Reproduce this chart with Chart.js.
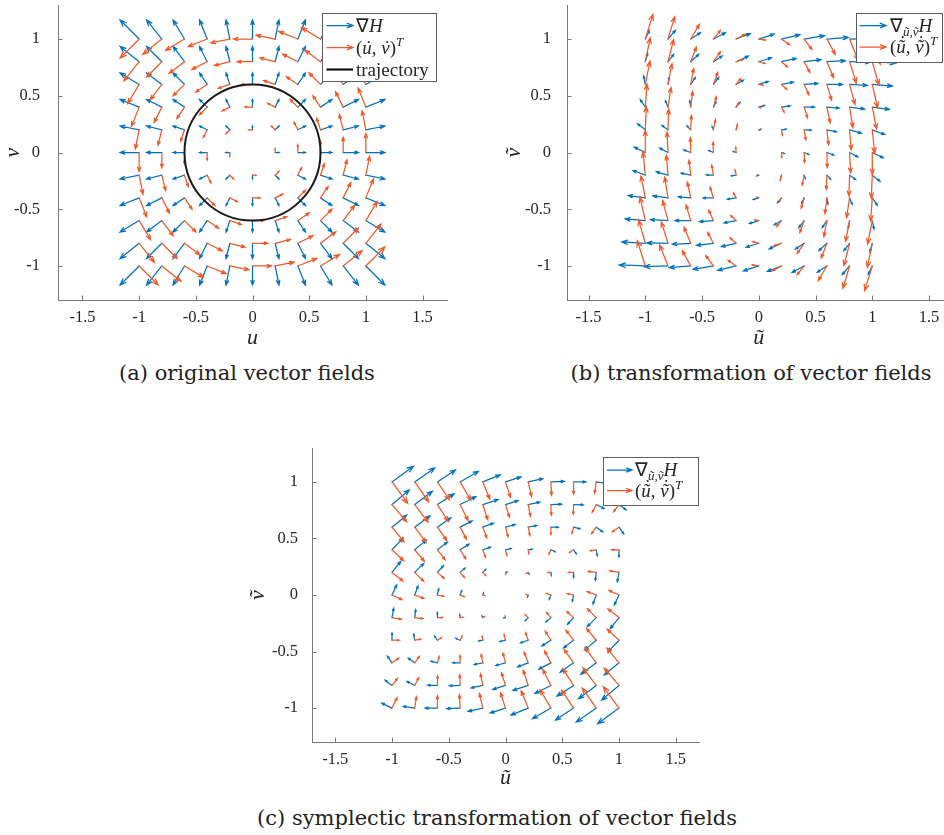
<!DOCTYPE html>
<html>
<head>
<meta charset="utf-8">
<script src="https://cdn.jsdelivr.net/npm/chart.js@4.4.1/dist/chart.umd.min.js"></script>
<style>
  body { margin: 0; background: #fff; width: 944px; height: 835px; position: relative; overflow: hidden; }
  canvas { position: absolute; }
  .cap { position: absolute; font-family: "DejaVu Serif", serif; font-size: 21px; color: #222;
         white-space: nowrap; transform: translate(-50%, -50%); }
</style>
</head>
<body>
<canvas id="chartA" width="470" height="350" style="left:0px;top:0px"></canvas>
<canvas id="chartB" width="460" height="350" style="left:500px;top:0px"></canvas>
<canvas id="chartC" width="460" height="350" style="left:250px;top:440px"></canvas>
<div class="cap" style="left:247px;top:373px">(a) original vector fields</div>
<div class="cap" style="left:751px;top:373px">(b) transformation of vector fields</div>
<div class="cap" style="left:497px;top:818px">(c) symplectic transformation of vector fields</div>
<script>
// sample grid (rows run from top to bottom)
const gridU = [-1, -0.8, -0.6, -0.4, -0.2, 0, 0.2, 0.4, 0.6, 0.8, 1];
const gridV = [1, 0.8, 0.6, 0.4, 0.2, 0, -0.2, -0.4, -0.6, -0.8, -1];
const xTicks = [-1.5, -1, -0.5, 0, 0.5, 1, 1.5];
const yTicks = [-1, -0.5, 0, 0.5, 1];
const trajRadius = 0.6;

// (a) gradient of H and the flow, one row per v, pairs (du, dv)
const gradA = [
  [-1,1, -0.8,1, -0.6,1, -0.4,1, -0.2,1, 0,1, 0.2,1, 0.4,1, 0.6,1, 0.8,1, 1,1],
  [-1,0.8, -0.8,0.8, -0.6,0.8, -0.4,0.8, -0.2,0.8, 0,0.8, 0.2,0.8, 0.4,0.8, 0.6,0.8, 0.8,0.8, 1,0.8],
  [-1,0.6, -0.8,0.6, -0.6,0.6, -0.4,0.6, -0.2,0.6, 0,0.6, 0.2,0.6, 0.4,0.6, 0.6,0.6, 0.8,0.6, 1,0.6],
  [-1,0.4, -0.8,0.4, -0.6,0.4, -0.4,0.4, -0.2,0.4, 0,0.4, 0.2,0.4, 0.4,0.4, 0.6,0.4, 0.8,0.4, 1,0.4],
  [-1,0.2, -0.8,0.2, -0.6,0.2, -0.4,0.2, -0.2,0.2, 0,0.2, 0.2,0.2, 0.4,0.2, 0.6,0.2, 0.8,0.2, 1,0.2],
  [-1,0, -0.8,0, -0.6,0, -0.4,0, -0.2,0, 0,0, 0.2,0, 0.4,0, 0.6,0, 0.8,0, 1,0],
  [-1,-0.2, -0.8,-0.2, -0.6,-0.2, -0.4,-0.2, -0.2,-0.2, 0,-0.2, 0.2,-0.2, 0.4,-0.2, 0.6,-0.2, 0.8,-0.2, 1,-0.2],
  [-1,-0.4, -0.8,-0.4, -0.6,-0.4, -0.4,-0.4, -0.2,-0.4, 0,-0.4, 0.2,-0.4, 0.4,-0.4, 0.6,-0.4, 0.8,-0.4, 1,-0.4],
  [-1,-0.6, -0.8,-0.6, -0.6,-0.6, -0.4,-0.6, -0.2,-0.6, 0,-0.6, 0.2,-0.6, 0.4,-0.6, 0.6,-0.6, 0.8,-0.6, 1,-0.6],
  [-1,-0.8, -0.8,-0.8, -0.6,-0.8, -0.4,-0.8, -0.2,-0.8, 0,-0.8, 0.2,-0.8, 0.4,-0.8, 0.6,-0.8, 0.8,-0.8, 1,-0.8],
  [-1,-1, -0.8,-1, -0.6,-1, -0.4,-1, -0.2,-1, 0,-1, 0.2,-1, 0.4,-1, 0.6,-1, 0.8,-1, 1,-1]
];
const flowA = [
  [-1,-1, -1,-0.8, -1,-0.6, -1,-0.4, -1,-0.2, -1,0, -1,0.2, -1,0.4, -1,0.6, -1,0.8, -1,1],
  [-0.8,-1, -0.8,-0.8, -0.8,-0.6, -0.8,-0.4, -0.8,-0.2, -0.8,0, -0.8,0.2, -0.8,0.4, -0.8,0.6, -0.8,0.8, -0.8,1],
  [-0.6,-1, -0.6,-0.8, -0.6,-0.6, -0.6,-0.4, -0.6,-0.2, -0.6,0, -0.6,0.2, -0.6,0.4, -0.6,0.6, -0.6,0.8, -0.6,1],
  [-0.4,-1, -0.4,-0.8, -0.4,-0.6, -0.4,-0.4, -0.4,-0.2, -0.4,0, -0.4,0.2, -0.4,0.4, -0.4,0.6, -0.4,0.8, -0.4,1],
  [-0.2,-1, -0.2,-0.8, -0.2,-0.6, -0.2,-0.4, -0.2,-0.2, -0.2,0, -0.2,0.2, -0.2,0.4, -0.2,0.6, -0.2,0.8, -0.2,1],
  [0,-1, 0,-0.8, 0,-0.6, 0,-0.4, 0,-0.2, 0,0, 0,0.2, 0,0.4, 0,0.6, 0,0.8, 0,1],
  [0.2,-1, 0.2,-0.8, 0.2,-0.6, 0.2,-0.4, 0.2,-0.2, 0.2,0, 0.2,0.2, 0.2,0.4, 0.2,0.6, 0.2,0.8, 0.2,1],
  [0.4,-1, 0.4,-0.8, 0.4,-0.6, 0.4,-0.4, 0.4,-0.2, 0.4,0, 0.4,0.2, 0.4,0.4, 0.4,0.6, 0.4,0.8, 0.4,1],
  [0.6,-1, 0.6,-0.8, 0.6,-0.6, 0.6,-0.4, 0.6,-0.2, 0.6,0, 0.6,0.2, 0.6,0.4, 0.6,0.6, 0.6,0.8, 0.6,1],
  [0.8,-1, 0.8,-0.8, 0.8,-0.6, 0.8,-0.4, 0.8,-0.2, 0.8,0, 0.8,0.2, 0.8,0.4, 0.8,0.6, 0.8,0.8, 0.8,1],
  [1,-1, 1,-0.8, 1,-0.6, 1,-0.4, 1,-0.2, 1,0, 1,0.2, 1,0.4, 1,0.6, 1,0.8, 1,1]
];

// (b) transformed fields (non-symplectic map), same grid
const gradB = [
  [12,25, 22,26, 29,19, 36,19, 42,16, 46,15, 55,13, 61,10, 64,5, 71,2, 78,-3],
  [7,25, 17,22, 24,22, 26,17, 37,17, 38,12, 44,10, 50,6, 55,3, 63,-1, 70,-4],
  [-5,25, 4,22, 14,21, 16,21, 22,13, 28,9, 36,7, 41,3, 47,0, 53,-3, 60,-5],
  [-15,22, -8,19, -3,19, 8,16, 12,14, 17,5, 26,4, 31,0, 37,-3, 45,-6, 51,-7],
  [-23,18, -18,13, -11,12, -4,10, 2,6, 6,2, 14,2, 21,-1, 29,-6, 35,-10, 37,-14],
  [-33,16, -25,13, -21,8, -14,6, -8,3, 0,0, 8,-3, 14,-6, 21,-8, 25,-13, 33,-16],
  [-37,14, -35,10, -29,6, -21,1, -14,-2, -6,-2, -2,-6, 4,-10, 11,-12, 18,-13, 23,-18],
  [-51,7, -45,6, -37,3, -31,0, -26,-4, -17,-5, -12,-14, -8,-16, 3,-19, 8,-19, 15,-22],
  [-60,5, -53,3, -47,0, -41,-3, -36,-7, -28,-9, -22,-13, -16,-21, -14,-21, -4,-22, 5,-25],
  [-70,4, -63,1, -55,-3, -50,-6, -44,-10, -38,-12, -37,-17, -26,-17, -24,-22, -17,-22, -7,-25],
  [-78,3, -71,-2, -64,-5, -61,-10, -55,-13, -46,-15, -42,-16, -36,-19, -29,-19, -22,-26, -12,-25]
];
const flowB = [
  [23,74, 20,67, 26,44, 21,26, 27,14, 20,-3, 24,-17, 23,-31, 25,-46, 25,-63, 24,-76],
  [15,72, 17,67, 17,44, 21,30, 22,7, 18,-5, 18,-16, 17,-32, 20,-48, 20,-64, 20,-70],
  [14,70, 12,62, 9,48, 13,36, 14,18, 12,-2, 16,-15, 14,-31, 14,-47, 16,-60, 16,-70],
  [5,69, 9,59, 6,47, 9,31, 7,12, 6,-2, 8,-15, 10,-32, 10,-47, 10,-62, 13,-66],
  [3,69, 2,62, 2,43, 6,30, 4,16, 2,-1, 3,-16, 5,-30, 5,-45, 5,-60, 7,-70],
  [0,66, -3,61, -1,44, -1,31, -1,16, 0,0, 1,-15, 1,-30, 1,-45, 3,-61, 0,-66],
  [-7,70, -5,60, -5,45, -5,30, -3,16, -2,1, -4,-16, -6,-30, -2,-43, -2,-62, -3,-69],
  [-13,66, -10,62, -10,47, -10,32, -8,15, -6,2, -7,-12, -9,-31, -6,-47, -9,-59, -5,-69],
  [-16,70, -16,60, -14,47, -14,31, -16,15, -12,2, -14,-18, -13,-36, -9,-48, -12,-62, -14,-70],
  [-20,70, -20,64, -20,48, -17,32, -18,16, -18,5, -22,-7, -21,-30, -17,-44, -17,-67, -15,-72],
  [-24,76, -25,63, -25,46, -23,31, -24,17, -20,3, -27,-14, -21,-26, -26,-44, -20,-67, -23,-74]
];

// (c) symplectic map
const gradC = [
  [64,47, 60,42, 54,36, 55,32, 52,21, 46,15, 44,10, 40,2, 37,0, 34,-5, 31,-15],
  [52,44, 53,40, 50,32, 48,24, 46,15, 38,12, 35,7, 32,1, 29,-1, 23,-12, 21,-16],
  [44,36, 46,34, 40,28, 36,19, 32,12, 29,8, 25,5, 22,0, 19,-5, 19,-14, 14,-20],
  [33,35, 35,29, 30,23, 27,17, 23,8, 17,4, 12,2, 13,-6, 8,-12, 3,-18, 0,-22],
  [26,33, 27,27, 18,20, 15,13, 9,9, 5,1, 3,-5, 1,-9, 0,-15, -3,-24, -5,-28],
  [14,30, 10,27, 4,19, 5,13, 2,6, 0,0, -2,-6, -5,-13, -4,-19, -10,-27, -14,-30],
  [5,28, 3,24, 0,15, -1,9, -3,5, -5,-1, -9,-9, -15,-13, -18,-20, -27,-27, -26,-33],
  [0,22, -3,18, -8,12, -13,6, -12,-2, -17,-4, -23,-8, -27,-17, -30,-23, -35,-29, -33,-35],
  [-14,20, -19,14, -19,5, -22,0, -25,-5, -29,-8, -32,-12, -36,-19, -40,-28, -46,-34, -44,-36],
  [-21,16, -23,12, -29,1, -32,-1, -35,-7, -38,-12, -46,-15, -48,-24, -50,-32, -53,-40, -52,-44],
  [-31,15, -34,5, -37,0, -40,-2, -44,-10, -46,-15, -52,-21, -55,-32, -54,-36, -60,-42, -64,-47]
];
const flowC = [
  [47,-64, 42,-60, 36,-54, 32,-55, 21,-52, 15,-46, 10,-44, 2,-40, 0,-37, -5,-34, -15,-31],
  [44,-52, 40,-53, 32,-50, 24,-48, 15,-46, 12,-38, 7,-35, 1,-32, -1,-29, -12,-23, -16,-21],
  [36,-44, 34,-46, 28,-40, 19,-36, 12,-32, 8,-29, 5,-25, 0,-22, -5,-19, -14,-19, -20,-14],
  [35,-33, 29,-35, 23,-30, 17,-27, 8,-23, 4,-17, 2,-12, -6,-13, -12,-8, -18,-3, -22,0],
  [33,-26, 27,-27, 20,-18, 13,-15, 9,-9, 1,-5, -5,-3, -9,-1, -15,0, -24,3, -28,5],
  [30,-14, 27,-10, 19,-4, 13,-5, 6,-2, 0,0, -6,2, -13,5, -19,4, -27,10, -30,14],
  [28,-5, 24,-3, 15,0, 9,1, 5,3, -1,5, -9,9, -13,15, -20,18, -27,27, -33,26],
  [22,0, 18,3, 12,8, 6,13, -2,12, -4,17, -8,23, -17,27, -23,30, -29,35, -35,33],
  [20,14, 14,19, 5,19, 0,22, -5,25, -8,29, -12,32, -19,36, -28,40, -34,46, -36,44],
  [16,21, 12,23, 1,29, -1,32, -7,35, -12,38, -15,46, -24,48, -32,50, -40,53, -44,52],
  [15,31, 5,34, 0,37, -2,40, -10,44, -15,46, -21,52, -32,55, -36,54, -42,60, -47,64]
];

const BLUE = '#0072BD';
const ORANGE = '#EE5A29';
const AXIS = '#7a7a7a';
const TXT = '#262626';
const SERIF = '"Liberation Serif", serif';

function arrow(ctx, x0, y0, x1, y1) {
  const dx = x1 - x0, dy = y1 - y0, L = Math.hypot(dx, dy);
  if (L < 0.4) return;
  const h = 0.25 * L, a = Math.atan2(dy, dx), s = 0.36;
  ctx.beginPath();
  ctx.moveTo(x0, y0);
  ctx.lineTo(x1, y1);
  ctx.moveTo(x1 - h * Math.cos(a - s), y1 - h * Math.sin(a - s));
  ctx.lineTo(x1, y1);
  ctx.lineTo(x1 - h * Math.cos(a + s), y1 - h * Math.sin(a + s));
  ctx.stroke();
}

// writes a run of text pieces: [text, font, dy, dotLift]; a dotLift puts a dot accent over the piece
function drawRun(ctx, pieces, x, y) {
  ctx.textBaseline = 'alphabetic';
  ctx.textAlign = 'left';
  pieces.forEach(([t, f, dy, dot]) => {
    ctx.font = f;
    const w = ctx.measureText(t).width;
    ctx.fillText(t, x, y + (dy || 0));
    if (dot !== undefined) {
      ctx.textAlign = 'center';
      ctx.font = R19;
      ctx.fillText('\u02D9', x + w / 2 + 1.5, y - dot);
      ctx.textAlign = 'left';
    }
    x += w;
  });
}

const R19 = '19px ' + SERIF, I19 = 'italic 19px ' + SERIF, I13 = 'italic 13px ' + SERIF;
const legendA = [
  { kind: 'arrow', color: BLUE, text: [['\u2207', R19], ['H', I19]] },
  { kind: 'arrow', color: ORANGE, text: [['(', R19], ['u', I19, 0, 0], [', ', R19], ['v', I19, 0, 0], [')', R19], ['T', I13, -8]] },
  { kind: 'line', color: '#000', text: [['trajectory', R19]] }
];
const legendT = [
  { kind: 'arrow', color: BLUE, text: [['\u2207', R19], ['\u0169,\u1E7D', I13, 4], ['H', I19]] },
  { kind: 'arrow', color: ORANGE, text: [['(', R19], ['\u0169', I19, 0, 4], [', ', R19], ['\u1E7D', I19, 0, 4], [')', R19], ['T', I13, -8]] }
];

function quiverPlugin(p) {
  return {
    id: 'quiver',
    afterDatasetsDraw(chart) {
      const ctx = chart.ctx, xs = chart.scales.x, ys = chart.scales.y;
      ctx.save();
      ctx.lineWidth = 1.25;
      ctx.lineCap = 'round';
      p.fields.forEach(f => {
        ctx.strokeStyle = f.color;
        f.rows.forEach((row, i) => {
          gridU.forEach((u, j) => {
            const v = gridV[i];
            arrow(ctx, xs.getPixelForValue(u), ys.getPixelForValue(v),
              xs.getPixelForValue(u + row[2 * j] * p.scale), ys.getPixelForValue(v + row[2 * j + 1] * p.scale));
          });
        });
      });
      if (p.trajectory) {
        const cx = xs.getPixelForValue(0), cy = ys.getPixelForValue(0);
        const rx = xs.getPixelForValue(p.trajectory) - cx, ry = cy - ys.getPixelForValue(p.trajectory);
        ctx.strokeStyle = '#1a1a1a';
        ctx.lineWidth = 2;
        ctx.beginPath();
        ctx.ellipse(cx, cy, rx, ry, 0, 0, Math.PI * 2);
        ctx.stroke();
      }
      ctx.restore();
    },
    afterDraw(chart) {
      const ctx = chart.ctx, xs = chart.scales.x, ys = chart.scales.y, a = chart.chartArea;
      ctx.save();
      // inward tick marks
      ctx.strokeStyle = AXIS;
      ctx.lineWidth = 1;
      ctx.beginPath();
      xTicks.forEach(t => { const x = Math.round(xs.getPixelForValue(t)) + 0.5; ctx.moveTo(x, a.bottom); ctx.lineTo(x, a.bottom - 4.5); });
      yTicks.forEach(t => { const y = Math.round(ys.getPixelForValue(t)) + 0.5; ctx.moveTo(a.left, y); ctx.lineTo(a.left + 4.5, y); });
      ctx.stroke();
      // axis titles
      ctx.fillStyle = TXT;
      ctx.font = 'italic 22px ' + SERIF;
      ctx.textAlign = 'center';
      ctx.textBaseline = 'middle';
      ctx.fillText(p.xTitle, (a.left + a.right) / 2, a.bottom + p.xTitleGap);
      ctx.translate(a.left - p.yTitleGap, (a.top + a.bottom) / 2);
      ctx.rotate(-Math.PI / 2);
      ctx.fillText(p.yTitle, 0, 0);
      ctx.setTransform(1, 0, 0, 1, 0, 0);
      // legend box
      const b = p.legendBox;
      ctx.fillStyle = '#fff';
      ctx.fillRect(b.x, b.y, b.w, b.h);
      ctx.strokeStyle = '#5e5e5e';
      ctx.lineWidth = 1;
      ctx.strokeRect(b.x + 0.5, b.y + 0.5, b.w, b.h);
      p.legend.forEach((e, k) => {
        const y = b.y + b.rowTop + k * b.rowStep;
        ctx.strokeStyle = e.color;
        ctx.lineWidth = e.kind === 'line' ? 2 : 1.25;
        if (e.kind === 'arrow') arrow(ctx, b.x + b.s0, y, b.x + b.s1, y);
        else { ctx.beginPath(); ctx.moveTo(b.x + b.s0, y); ctx.lineTo(b.x + b.s1, y); ctx.stroke(); }
        ctx.fillStyle = TXT;
        drawRun(ctx, e.text, b.x + b.tx, y + 6);
      });
      ctx.restore();
    }
  };
}

function quiverChart(id, cfg) {
  const el = document.getElementById(id);
  const pts = [];
  gridV.forEach(v => gridU.forEach(u => pts.push({ x: u, y: v })));
  return new Chart(el, {
    type: 'scatter',
    data: { datasets: [{ data: pts, pointRadius: 0, pointHoverRadius: 0 }] },
    options: {
      responsive: false,
      animation: false,
      events: [],
      layout: { padding: { left: 0, top: cfg.area.t, right: el.width - cfg.area.r, bottom: 0 } },
      plugins: { legend: { display: false }, tooltip: { enabled: false } },
      scales: {
        x: {
          type: 'linear', min: cfg.xr[0], max: cfg.xr[1],
          grid: { display: false, drawTicks: false },
          border: { display: true, color: AXIS, width: 1 },
          ticks: { color: TXT, font: { family: SERIF, size: 16.5 }, padding: 8, callback: v => String(v) },
          afterBuildTicks: s => { s.ticks = xTicks.map(v => ({ value: v })); },
          afterFit: s => { s.height = el.height - cfg.area.b; s.paddingLeft = 0; s.paddingRight = 0; }
        },
        y: {
          type: 'linear', min: cfg.yr[0], max: cfg.yr[1],
          grid: { display: false, drawTicks: false },
          border: { display: true, color: AXIS, width: 1 },
          ticks: { color: TXT, font: { family: SERIF, size: 16.5 }, padding: cfg.yPad, callback: v => String(v) },
          afterBuildTicks: s => { s.ticks = yTicks.map(v => ({ value: v })); },
          afterFit: s => { s.width = cfg.area.l; s.paddingTop = 0; s.paddingBottom = 0; }
        }
      }
    },
    plugins: [quiverPlugin(cfg)]
  });
}

quiverChart('chartA', {
  area: { l: 58, r: 447, t: 5, b: 300 }, xr: [-1.716, 1.716], yr: [-1.3, 1.3], yPad: 18,
  fields: [{ rows: gradA, color: BLUE }, { rows: flowA, color: ORANGE }],
  scale: 0.168, trajectory: trajRadius,
  xTitle: 'u', yTitle: 'v', xTitleGap: 38, yTitleGap: 45,
  legend: legendA,
  legendBox: { x: 322, y: 13, w: 114, h: 68, rowTop: 12.5, rowStep: 22, s0: 4.5, s1: 31, tx: 34 }
});
quiverChart('chartB', {
  area: { l: 67, r: 450.6, t: 5, b: 300 }, xr: [-1.69, 1.69], yr: [-1.3, 1.3], yPad: 16,
  fields: [{ rows: gradB, color: BLUE }, { rows: flowB, color: ORANGE }],
  scale: 0.00294,
  xTitle: 'u\u0303', yTitle: 'v\u0303', xTitleGap: 38, yTitleGap: 53,
  legend: legendT,
  legendBox: { x: 356, y: 13, w: 86, h: 49, rowTop: 12.5, rowStep: 21.5, s0: 3.5, s1: 30, tx: 34 }
});
quiverChart('chartC', {
  area: { l: 62, r: 449, t: 8, b: 302 }, xr: [-1.705, 1.705], yr: [-1.3, 1.3], yPad: 14,
  fields: [{ rows: gradC, color: BLUE }, { rows: flowC, color: ORANGE }],
  scale: 0.00294,
  xTitle: 'u\u0303', yTitle: 'v\u0303', xTitleGap: 36, yTitleGap: 54,
  legend: legendT,
  legendBox: { x: 353, y: 17, w: 95, h: 48, rowTop: 13, rowStep: 20.5, s0: 4, s1: 29, tx: 32 }
});
</script>
</body>
</html>
